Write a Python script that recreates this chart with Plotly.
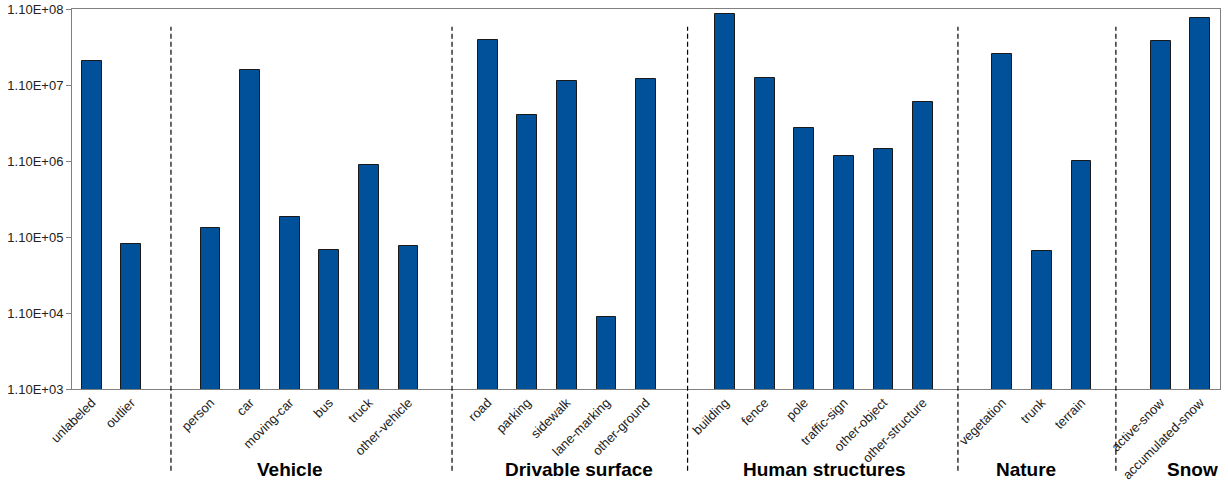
import plotly.graph_objects as go

# point counts per class
group_names = ["", "Vehicle", "Drivable surface", "Human structures", "Nature", "Snow"]
group_sizes = [2, 6, 5, 6, 3, 2]
classes = ["unlabeled", "outlier",
           "person", "car", "moving-car", "bus", "truck", "other-vehicle",
           "road", "parking", "sidewalk", "lane-marking", "other-ground",
           "building", "fence", "pole", "traffic-sign", "other-object", "other-structure",
           "vegetation", "trunk", "terrain",
           "active-snow", "accumulated-snow"]
counts = [2.28e7, 8.9e4,
          1.44e5, 1.73e7, 2.01e5, 7.4e4, 9.7e5, 8.4e4,
          4.3e7, 4.43e6, 1.24e7, 9.75e3, 1.32e7,
          9.46e7, 1.36e7, 2.99e6, 1.28e6, 1.58e6, 6.57e6,
          2.81e7, 7.2e4, 1.1e6,
          4.17e7, 8.38e7]
ytick_vals = [1.1e3, 1.1e4, 1.1e5, 1.1e6, 1.1e7, 1.1e8]
ytick_text = ["1.10E+03", "1.10E+04", "1.10E+05", "1.10E+06", "1.10E+07", "1.10E+08"]

# slot positions: one empty slot between groups
xpos = []
gaps = []
group_centers = []
slot = 0
for gi, size in enumerate(group_sizes):
    if gi > 0:
        gaps.append(slot)
        slot += 1
    group_centers.append(slot + (size - 1) / 2)
    for k in range(size):
        xpos.append(slot)
        slot += 1
nslots = slot

# small hand nudges (in slots) so separators / group titles sit as in the original
line_nudge = [0.0, 0.1, 0.05, -0.12, -0.13]
label_nudge = [0.0, -0.5, 0.3, 0.0, -0.4, 0.3]

FONT = "Liberation Sans, Arial, sans-serif"

fig = go.Figure(go.Bar(
    x=xpos, y=counts, width=0.5,
    marker=dict(color="#00509A", line=dict(color="#1a1a1a", width=1)),
))

shapes = []
for g, dx in zip(gaps, line_nudge):
    shapes.append(dict(type="line", xref="x", yref="paper", x0=g + dx, x1=g + dx,
                       y0=-0.215, y1=0.953,
                       line=dict(color="black", width=1.2, dash="5px,3px")))

annotations = []
for name, cx, dx in zip(group_names, group_centers, label_nudge):
    if not name:
        continue
    annotations.append(dict(text=name, x=cx + dx, xref="x", y=-0.213, yref="paper",
                            showarrow=False, yanchor="middle",
                            font=dict(family=FONT, size=19, color="black", weight="bold")))

fig.update_layout(
    width=1228, height=481,
    margin=dict(l=72, r=8, t=9, b=92, autoexpand=False),
    plot_bgcolor="white", paper_bgcolor="white",
    showlegend=False, bargap=0,
    font=dict(family=FONT, size=13, color="#222"),
    shapes=shapes, annotations=annotations,
)
fig.update_xaxes(
    range=[-0.5, nslots - 0.5], tickmode="array", tickvals=xpos, ticktext=classes,
    tickangle=-45, ticks="", showgrid=False, zeroline=False, automargin=False,
    showline=True, linecolor="#808080", linewidth=1, mirror=True,
    tickfont=dict(size=13, color="#222"),
)
fig.update_yaxes(
    type="log", range=[3.0414, 8.0414], tickmode="array",
    tickvals=ytick_vals, ticktext=ytick_text, automargin=False,
    ticks="outside", ticklen=5, tickcolor="#808080", showgrid=False,
    showline=True, linecolor="#808080", linewidth=1, mirror=True,
    tickfont=dict(size=13, color="#222"),
)

# the page has a default body margin; drop it so the figure fills the window
fig.write_html("out.html", config={"displayModeBar": False},
               post_script="document.body.style.margin='0';")
